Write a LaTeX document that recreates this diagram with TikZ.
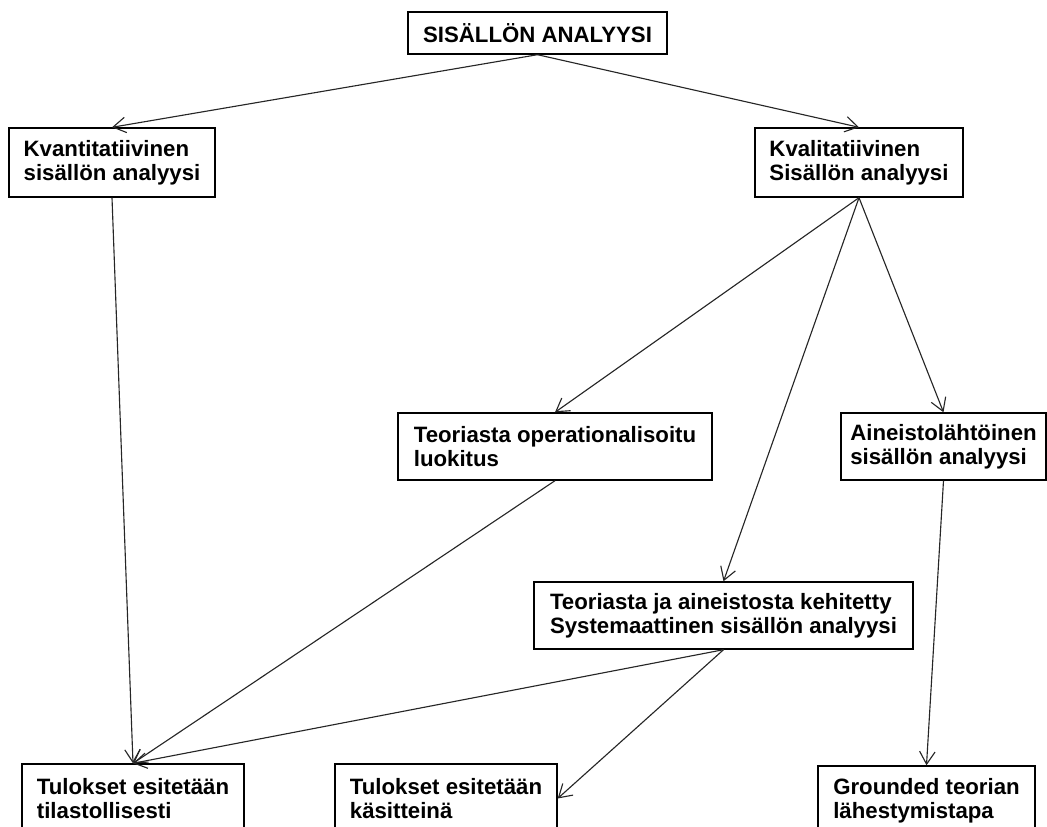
\documentclass[tikz,border=0pt]{standalone}
\usepackage{fontspec}
\setmainfont{Liberation Sans}
\usepackage{tikz}
\usetikzlibrary{arrows.meta}

\begin{document}
\begin{tikzpicture}[x=0.025cm, y=-0.025cm,
    box/.style={draw, line width=1pt, align=left, inner sep=0pt,
                font=\fontsize{15.8}{17.4}\selectfont\bfseries},
    link/.style={line width=0.8pt, black!85,
                 -{Straight Barb[length=9pt, width=11pt, line width=0.8pt]}}]
    \useasboundingbox (0,0) rectangle (1047,827);
    \clip (0,0) rectangle (1047,827);
    % Top level
    \node[box, minimum width=259*0.025cm, minimum height=42*0.025cm]
        (top) at (537.5,33) {SISÄLLÖN ANALYYSI};
    % Second level
    \node[box, minimum width=206*0.025cm, minimum height=69*0.025cm]
        (kvant) at (112,162.5) {Kvantitatiivinen\\sisällön analyysi};
    \node[box, minimum width=208*0.025cm, minimum height=69*0.025cm]
        (kval) at (859,162.5) {Kvalitatiivinen\\Sisällön analyysi};
    % Third level
    \node[box, minimum width=314*0.025cm, minimum height=67*0.025cm]
        (teoria) at (555,446.5) {Teoriasta operationalisoitu\\luokitus};
    \node[box, minimum width=205*0.025cm, minimum height=67*0.025cm]
        (aineisto) at (943.5,446.5) {Aineistolähtöinen\\sisällön analyysi};
    \node[box, minimum width=379*0.025cm, minimum height=67*0.025cm]
        (syst) at (723.5,615.5) {Teoriasta ja aineistosta kehitetty\\Systemaattinen sisällön analyysi};
    % Results (cut by the lower edge)
    \node[box, minimum width=222*0.025cm, minimum height=69*0.025cm]
        (tilasto) at (133,798.5) {Tulokset esitetään\\tilastollisesti};
    \node[box, minimum width=222*0.025cm, minimum height=69*0.025cm]
        (kasite) at (446,798.5) {Tulokset esitetään\\käsitteinä};
    \node[box, minimum width=217*0.025cm, minimum height=69*0.025cm]
        (grounded) at (926.5,800.5) {Grounded teorian\\lähestymistapa};
    % Arrows
    \draw[link] (top.south) -- (kvant.north);
    \draw[link] (top.south) -- (kval.north);
    \draw[link] (kvant.south) -- (tilasto.north);
    \draw[link] (kval.south) -- (teoria.north);
    \draw[link] (kval.south) -- (syst.north);
    \draw[link] (kval.south) -- (aineisto.north);
    \draw[link] (teoria.south) -- (tilasto.north);
    \draw[link] (syst.south) -- (tilasto.north);
    \draw[link] (syst.south) -- (kasite.east);
    \draw[link] (aineisto.south) -- (grounded.north);
\end{tikzpicture}
\end{document}
